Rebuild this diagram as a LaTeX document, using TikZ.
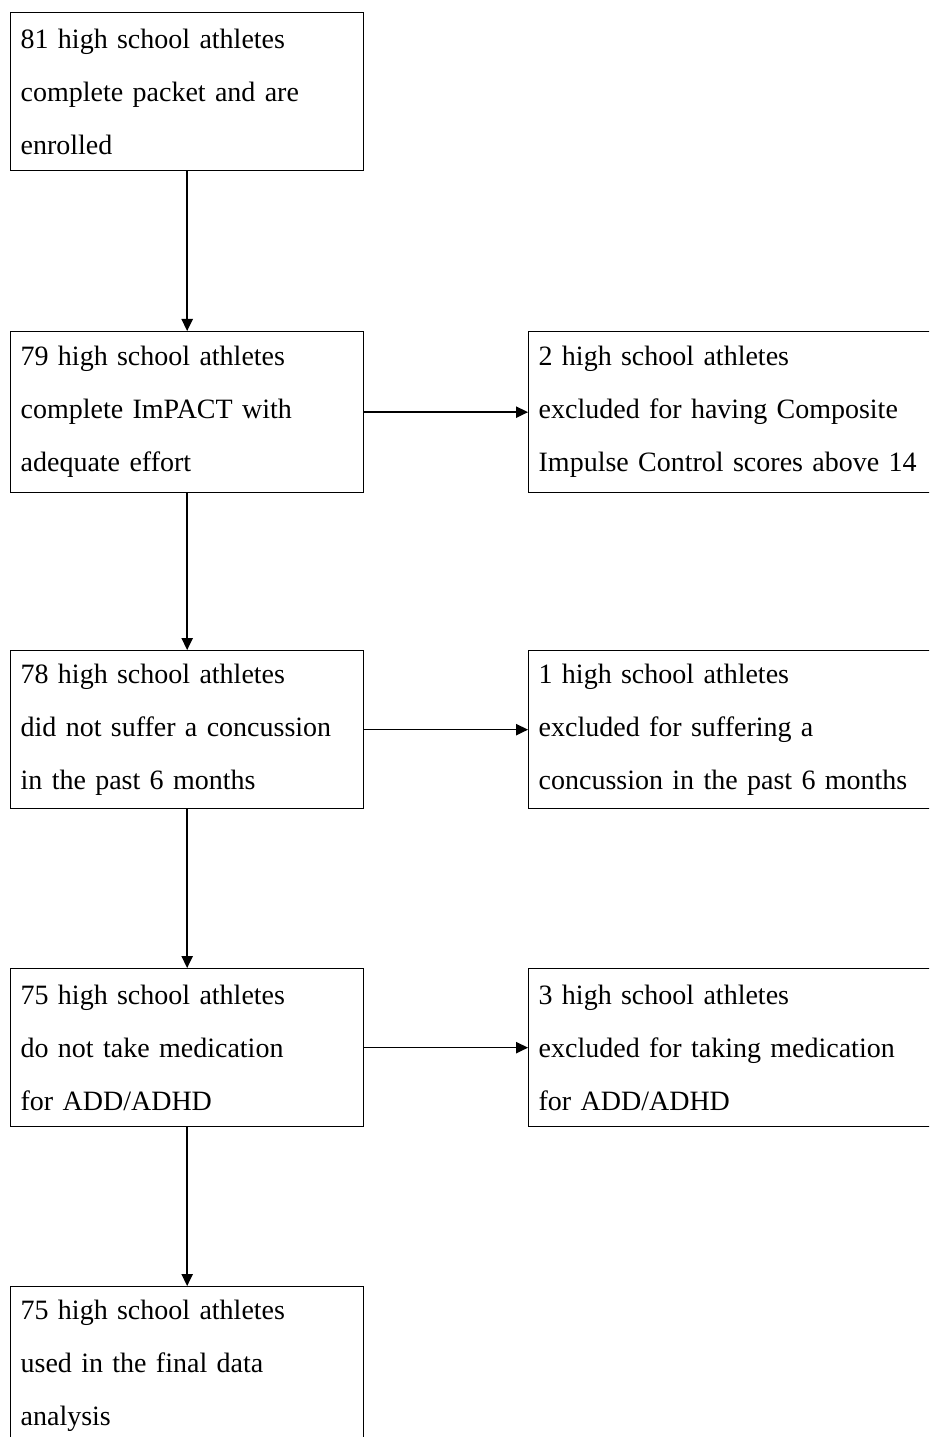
\documentclass[tikz,border=0pt]{standalone}
\usepackage{fontspec}
\setmainfont{Liberation Serif}
\usetikzlibrary{arrows.meta}

\begin{document}
\begin{tikzpicture}[
  x=0.75pt, y=-0.75pt,
  lbox/.style={draw, line width=1pt, font=\fontsize{21}{39.75}\selectfont, align=left, anchor=north west, inner xsep=7.5pt, inner ysep=0pt, text width=249.75pt, minimum height=118.5pt},
  rbox/.style={lbox, text width=292.5pt},
  arrow/.style={-{Triangle[length=9pt, width=8.5pt]}, line width=1.1pt},
  >=Triangle
]
\useasboundingbox (0,0) rectangle (929,1437);
\clip (0,0) rectangle (929,1437);

\node[lbox] (enrolled) at (10,12) {81 high school athletes\\complete packet and are\\enrolled};
\node[lbox, minimum height=120.75pt] (impact) at (10,331) {79 high school athletes\\complete ImPACT with\\adequate effort};
\node[lbox] (noconc) at (10,650) {78 high school athletes\\did not suffer a concussion\\in the past 6 months};
\node[lbox] (nomed) at (10,968) {75 high school athletes\\do not take medication\\for ADD/ADHD};
\node[lbox] (final) at (10,1286) {75 high school athletes\\used in the final data\\analysis};

\node[rbox, minimum height=120.75pt] (excimpact) at (528,331) {2 high school athletes\\excluded for having Composite\\Impulse Control scores above 14};
\node[rbox] (excconc) at (528,650) {1 high school athletes\\excluded for suffering a\\concussion in the past 6 months};
\node[rbox] (excmed) at (528,968) {3 high school athletes\\excluded for taking medication\\for ADD/ADHD};

\draw[arrow] (enrolled) -- (impact);
\draw[arrow] (impact) -- (noconc);
\draw[arrow] (noconc) -- (nomed);
\draw[arrow] (nomed) -- (final);
\draw[arrow] (impact) -- (excimpact);
\draw[arrow] (noconc) -- (excconc);
\draw[arrow] (nomed) -- (excmed);

\end{tikzpicture}
\end{document}
